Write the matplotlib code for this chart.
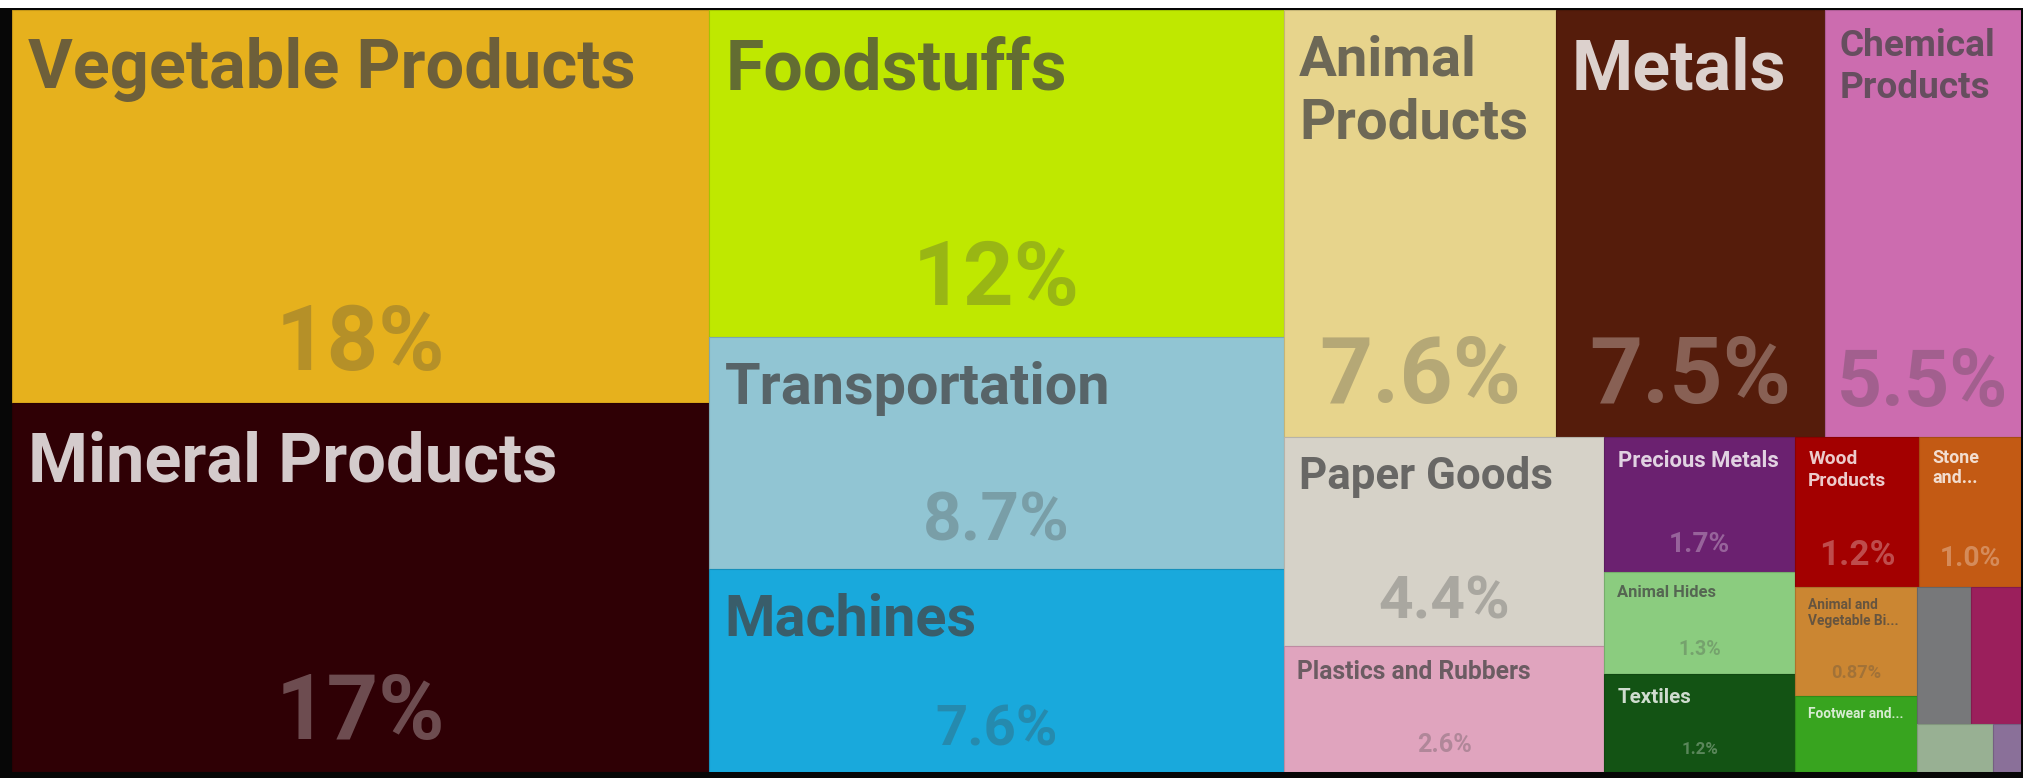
"""Treemap of export shares by product section (d3-style squarified layout)."""

import matplotlib

matplotlib.use("Agg")
import matplotlib.pyplot as plt
from matplotlib import font_manager
from matplotlib.patches import Rectangle

# ---- data -------------------------------------------------------------
sections = [
    "Vegetable Products", "Mineral Products", "Foodstuffs", "Transportation",
    "Machines", "Animal Products", "Metals", "Chemical Products", "Paper Goods",
    "Plastics and Rubbers", "Precious Metals", "Animal Hides", "Textiles",
    "Wood Products", "Stone and Glass", "Animal and Vegetable Bi-Products",
    "Footwear and Headwear", "Miscellaneous", "Instruments",
    "Arts and Antiques", "Weapons",
]
shares = [
    17.9, 16.8, 12.3, 8.7,
    7.62, 7.58, 7.5, 5.46, 4.38,
    2.64, 1.69, 1.27, 1.22,
    1.22, 1.0, 0.87,
    0.60, 0.48, 0.45,
    0.24, 0.09,
]
# text as it appears in each tile (wrapped / truncated like the original)
tile_labels = [
    "Vegetable Products", "Mineral Products", "Foodstuffs", "Transportation",
    "Machines", "Animal\nProducts", "Metals", "Chemical\nProducts", "Paper Goods",
    "Plastics and Rubbers", "Precious Metals", "Animal Hides", "Textiles",
    "Wood\nProducts", "Stone\nand...", "Animal and\nVegetable Bi...",
    "Footwear and...", "", "",
    "", "",
]

# ---- style ------------------------------------------------------------
colors = [
    "#E6B11D", "#2F0005", "#BFE800", "#91C5D3",
    "#19A9DC", "#E7D48C", "#551C0B", "#CC6CAF", "#D6D2C8",
    "#E0A4BE", "#6B2170", "#8BCC7F", "#135314",
    "#A30000", "#C35A14", "#CB8632",
    "#38A41F", "#77787A", "#9B1F5C",
    "#98B093", "#8A7099",
]
# cap heights in px for the name and the percentage (0 = not drawn)
name_cap = [50, 50, 51, 42, 42, 41, 51, 27, 32, 18, 16, 12, 15,
            14, 13, 10, 10, 0, 0, 0, 0]
pct_cap = [64, 64, 63, 48, 40, 66, 66, 56, 43, 18, 20, 14, 12,
           25, 20, 13, 0, 0, 0, 0, 0]

FIG_W, FIG_H = 2023, 778
MAP_X0, MAP_X1, MAP_Y0, MAP_Y1 = 12, 2021, 10, 772
RATIO = 1.65  # squarify target aspect (slightly above phi, matches the original tiling)
NAME_SCALE = 0.975  # Roboto runs a little wider than the original's condensed face


def pick_font():
    names = {f.name for f in font_manager.fontManager.ttflist}
    for n in ["Roboto", "Open Sans", "Lato", "DejaVu Sans"]:
        if n in names:
            return n
    return "DejaVu Sans"


FONT = pick_font()
CAP_RATIO = {"Roboto": 0.711, "Open Sans": 0.714, "Lato": 0.717}.get(FONT, 0.729)


def squarify(values, x0, y0, x1, y1, ratio=RATIO):
    """Port of d3.treemapSquarify (rows in value order)."""
    n = len(values)
    rects = [None] * n
    value = float(sum(values))
    i0 = i1 = 0
    while i0 < n:
        dx, dy = x1 - x0, y1 - y0
        sum_v = values[i1]
        i1 += 1
        min_v = max_v = sum_v
        alpha = max(dy / dx, dx / dy) / (value * ratio)
        beta = sum_v * sum_v * alpha
        min_ratio = max(max_v / beta, beta / min_v)
        while i1 < n:
            nv = values[i1]
            s = sum_v + nv
            mn, mx = min(min_v, nv), max(max_v, nv)
            beta = s * s * alpha
            new_ratio = max(mx / beta, beta / mn)
            if new_ratio > min_ratio:
                break
            sum_v, min_v, max_v, min_ratio = s, mn, mx, new_ratio
            i1 += 1
        if dx < dy:  # dice: a row across the top
            yy = y0 + dy * sum_v / value if i1 < n else y1
            x = x0
            for i in range(i0, i1):
                w = dx * values[i] / sum_v
                rects[i] = (x, y0, x + w, yy)
                x += w
            y0 = yy
        else:  # slice: a column on the left
            xx = x0 + dx * sum_v / value if i1 < n else x1
            y = y0
            for i in range(i0, i1):
                h = dy * values[i] / sum_v
                rects[i] = (x0, y, xx, y + h)
                y += h
            x0 = xx
        value -= sum_v
        i0 = i1
    return rects


def fmt_pct(v):
    if v >= 10:
        return f"{v:.0f}%"
    if v >= 1:
        return f"{v:.1f}%"
    return f"{v:.2f}%"


def is_dark(hexcol):
    r, g, b = (int(hexcol[i:i + 2], 16) for i in (1, 3, 5))
    return (r * 299 + g * 587 + b * 114) / 1000 < 128


def darken(hexcol, f=0.85):
    r, g, b = (int(hexcol[i:i + 2], 16) / 255 for i in (1, 3, 5))
    return (r * f, g * f, b * f)


def pt(cap_px):
    return cap_px / CAP_RATIO * 72 / 100


fig = plt.figure(figsize=(FIG_W / 100, FIG_H / 100), dpi=100, facecolor="white")
# dark frame behind the map (black strip left / bottom, thin line on top)
frame = fig.add_axes([0, 0, 1, (FIG_H - 8) / FIG_H])
frame.set_facecolor("#070707")
frame.set_xticks([])
frame.set_yticks([])
for sp in frame.spines.values():
    sp.set_visible(False)

W, H = MAP_X1 - MAP_X0, MAP_Y1 - MAP_Y0
ax = fig.add_axes([MAP_X0 / FIG_W, (FIG_H - MAP_Y1) / FIG_H, W / FIG_W, H / FIG_H])
ax.set_xlim(0, W)
ax.set_ylim(H, 0)
ax.axis("off")

order = sorted(range(len(shares)), key=lambda i: -shares[i])
rects = squarify([shares[i] for i in order], 0, 0, W, H)
renderer = fig.canvas.get_renderer()

for k, i in enumerate(order):
    x0, y0, x1, y1 = rects[k]
    col = colors[i]
    ax.add_patch(Rectangle((x0, y0), x1 - x0, y1 - y0, facecolor=col,
                           edgecolor=darken(col), lw=0.8))
    txt_col = "white" if is_dark(col) else "#444444"
    name_a = 0.8 if is_dark(col) else 0.75

    cap = name_cap[i]
    if cap and tile_labels[i]:
        pad_x = 12 + 0.08 * cap
        base = y0 + 0.4 * cap + 8 + cap
        for line in tile_labels[i].split("\n"):
            fs = pt(cap) * NAME_SCALE
            t = ax.text(x0 + pad_x, base, line, ha="left", va="baseline",
                        fontsize=fs, fontweight="bold", family=FONT,
                        color=txt_col, alpha=name_a)
            # shrink if the line would spill out of the tile
            wpx = t.get_window_extent(renderer).width
            room = (x1 - x0) - 2 * pad_x
            if wpx > room:
                t.set_fontsize(fs * room / wpx)
            base += 1.55 * cap

    pc = pct_cap[i]
    if pc:
        ax.text((x0 + x1) / 2, y1 - (15 + 0.28 * pc), fmt_pct(shares[i]),
                ha="center", va="baseline", fontsize=pt(pc), fontweight="bold",
                family=FONT, color=txt_col, alpha=0.3)

fig.savefig("out.png", dpi=100, facecolor="white")
